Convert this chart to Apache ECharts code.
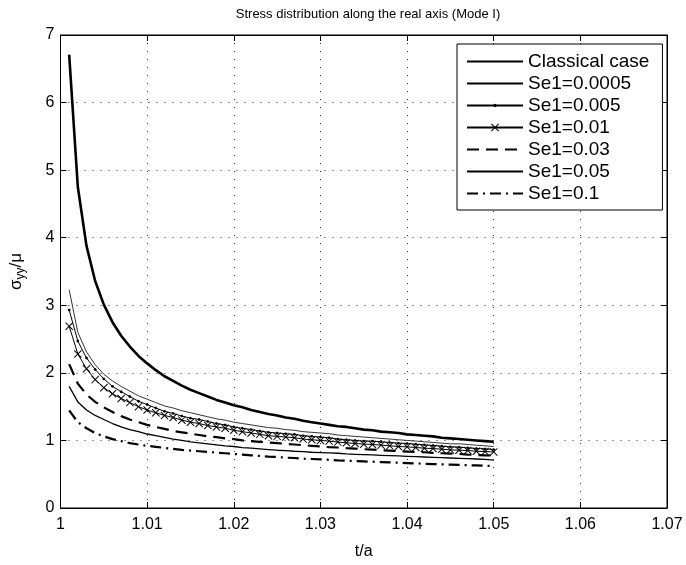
<!DOCTYPE html>
<html>
<head>
<meta charset="utf-8">
<script src="https://cdn.jsdelivr.net/npm/echarts@6/dist/echarts.min.js"></script>
<style>
html,body{margin:0;padding:0;background:#fff;}
#chart{width:686px;height:565px;}
</style>
</head>
<body>
<div id="chart"></div>
<script>
// t/a sample positions
const tValues = [1.001,1.002,1.003,1.004,1.005,1.006,1.007,1.008,1.009,1.010,
  1.011,1.012,1.013,1.014,1.015,1.016,1.017,1.018,1.019,1.020,
  1.021,1.022,1.023,1.024,1.025,1.026,1.027,1.028,1.029,1.030,
  1.031,1.032,1.033,1.034,1.035,1.036,1.037,1.038,1.039,1.040,
  1.041,1.042,1.043,1.044,1.045,1.046,1.047,1.048,1.049,1.050];

const classical = [6.71,4.75,3.88,3.36,3.01,2.75,2.55,2.39,2.25,2.14,
  2.04,1.95,1.88,1.81,1.75,1.70,1.65,1.60,1.56,1.52,
  1.49,1.45,1.42,1.39,1.37,1.34,1.32,1.29,1.27,1.25,
  1.23,1.21,1.20,1.18,1.16,1.15,1.13,1.12,1.11,1.09,
  1.08,1.07,1.06,1.04,1.03,1.02,1.01,1.00,0.99,0.98];

const se0005 = [3.23,2.60,2.31,2.12,1.98,1.88,1.80,1.73,1.66,1.61,
  1.56,1.51,1.48,1.44,1.41,1.38,1.35,1.32,1.30,1.27,
  1.25,1.23,1.21,1.19,1.18,1.16,1.15,1.13,1.12,1.11,
  1.10,1.08,1.07,1.06,1.05,1.04,1.03,1.02,1.01,1.00,
  0.99,0.98,0.97,0.96,0.95,0.95,0.94,0.93,0.92,0.91];

const se005 = [2.93,2.47,2.22,2.05,1.91,1.80,1.72,1.65,1.58,1.53,
  1.48,1.43,1.40,1.36,1.33,1.31,1.28,1.25,1.23,1.20,
  1.18,1.16,1.14,1.12,1.11,1.10,1.09,1.07,1.06,1.05,
  1.04,1.02,1.01,1.00,0.99,0.99,0.98,0.97,0.96,0.955,
  0.945,0.935,0.925,0.915,0.905,0.90,0.89,0.88,0.875,0.865];

const se01 = [2.69,2.28,2.06,1.90,1.78,1.69,1.62,1.56,1.50,1.45,
  1.41,1.37,1.34,1.30,1.27,1.25,1.22,1.20,1.18,1.15,
  1.13,1.11,1.09,1.07,1.06,1.05,1.04,1.02,1.01,1.00,
  0.99,0.975,0.965,0.955,0.945,0.94,0.93,0.92,0.91,0.905,
  0.895,0.885,0.88,0.87,0.86,0.855,0.85,0.84,0.835,0.83];

const se03 = [2.13,1.84,1.68,1.57,1.49,1.42,1.36,1.31,1.27,1.23,
  1.20,1.17,1.14,1.12,1.10,1.08,1.06,1.05,1.03,1.02,
  1.00,0.99,0.98,0.97,0.96,0.95,0.94,0.93,0.92,0.91,
  0.90,0.895,0.885,0.88,0.87,0.865,0.855,0.85,0.84,0.835,
  0.83,0.825,0.815,0.81,0.805,0.80,0.79,0.785,0.78,0.775];

const se05 = [1.80,1.57,1.45,1.37,1.31,1.25,1.20,1.16,1.13,1.095,
  1.07,1.045,1.02,1.00,0.98,0.965,0.95,0.935,0.92,0.91,
  0.895,0.885,0.875,0.865,0.855,0.85,0.84,0.835,0.825,0.82,
  0.815,0.81,0.80,0.795,0.79,0.785,0.78,0.775,0.77,0.765,
  0.76,0.755,0.75,0.745,0.74,0.735,0.73,0.725,0.72,0.71];

const se1 = [1.445,1.27,1.18,1.11,1.06,1.02,0.99,0.96,0.94,0.92,
  0.905,0.89,0.875,0.86,0.85,0.84,0.83,0.82,0.81,0.80,
  0.79,0.78,0.77,0.76,0.755,0.745,0.74,0.73,0.725,0.72,
  0.713,0.706,0.70,0.695,0.69,0.685,0.68,0.675,0.67,0.665,
  0.66,0.655,0.65,0.646,0.642,0.638,0.634,0.63,0.625,0.62];

const seriesNames = ['Classical case','Se1=0.0005','Se1=0.005','Se1=0.01','Se1=0.03','Se1=0.05','Se1=0.1'];
const xTicks = [1,1.01,1.02,1.03,1.04,1.05,1.06,1.07];
const yTicks = [0,1,2,3,4,5,6,7];

const pair = arr => tValues.map((t,i) => [t, arr[i]]);
const FONT = 'Liberation Sans, Arial, sans-serif';
// marker shapes drawn inside a 12x12 box (corner moveTo points fix the box)
const dotPath = 'path://M0,0M12,12M6,4.3L7.2,4.8L7.7,6L7.2,7.2L6,7.7L4.8,7.2L4.3,6L4.8,4.8Z';
const crossPath = 'path://M0,0M12,12M2,2.7L2.7,2L10,9.3L9.3,10ZM9.3,2L10,2.7L2.7,10L2,9.3Z';

const chart = echarts.init(document.getElementById('chart'), null, {renderer:'canvas'});

const baseLine = (name, data, ls, extra) => Object.assign({
  name, type:'line', data: pair(data), symbol:'none', animation:false,
  lineStyle: Object.assign({color:'#000'}, ls),
  itemStyle: {color:'#000'},
  emphasis:{disabled:true}, z: 3
}, extra || {});

const gridLine = {show:true, lineStyle:{color:'#222', width:1, type:[1,7]}};
const noSym = name => ({name, itemStyle:{opacity:0}});

chart.setOption({
  animation:false,
  backgroundColor:'#fff',
  title:{
    text:'Stress distribution along the real axis (Mode I)',
    left: 363, top: 3, textAlign:'center',
    textStyle:{fontFamily:FONT, fontSize:13, fontWeight:'normal', color:'#000'}
  },
  grid:{left:60, right:19, top:35, bottom:53, show:true, borderColor:'#000', borderWidth:1},
  xAxis:[{
    type:'value', min:1, max:1.07, interval:0.01,
    name:'t/a', nameLocation:'middle', nameGap:36,
    nameTextStyle:{fontFamily:FONT, fontSize:16, color:'#000'},
    axisLine:{show:true, onZero:false, lineStyle:{color:'#000', width:1}},
    axisTick:{show:true, inside:true, length:6, lineStyle:{color:'#000'}},
    axisLabel:{fontFamily:FONT, fontSize:16, color:'#000', margin:9,
      formatter: v => String(+v.toFixed(2))},
    splitLine: gridLine
  },{
    type:'value', min:1, max:1.07, interval:0.01, position:'top',
    axisLine:{show:true, onZero:false, lineStyle:{color:'#000'}},
    axisTick:{show:true, inside:true, length:6, lineStyle:{color:'#000'}},
    axisLabel:{show:false}, splitLine:{show:false}
  }],
  yAxis:[{
    type:'value', min:0, max:7, interval:1,
    name:'{s|σ}{sub|yy}{s|/μ}', nameLocation:'middle', nameGap:34, nameRotate:90,
    nameTextStyle:{fontFamily:FONT, color:'#000',
      rich:{
        s:{fontFamily:FONT, fontSize:17, color:'#000'},
        sub:{fontFamily:FONT, fontSize:12, color:'#000', verticalAlign:'bottom', padding:[8,0,0,0]}
      }},
    axisLine:{show:true, onZero:false, lineStyle:{color:'#000', width:1}},
    axisTick:{show:true, inside:true, length:6, lineStyle:{color:'#000'}},
    axisLabel:{fontFamily:FONT, fontSize:16, color:'#000', margin:6},
    splitLine: gridLine
  },{
    type:'value', min:0, max:7, interval:1, position:'right',
    axisLine:{show:true, onZero:false, lineStyle:{color:'#000'}},
    axisTick:{show:true, inside:true, length:6, lineStyle:{color:'#000'}},
    axisLabel:{show:false}, splitLine:{show:false}
  }],
  legend:{
    orient:'vertical', left:457, top:44,
    backgroundColor:'#fff', borderColor:'#000', borderWidth:1,
    padding:[8,13,7,9], itemGap:3, itemWidth:56, itemHeight:15,
    textStyle:{fontFamily:FONT, fontSize:19, color:'#000'},
    data: [noSym(seriesNames[0]), noSym(seriesNames[1]), seriesNames[2], seriesNames[3],
           noSym(seriesNames[4]), noSym(seriesNames[5]), noSym(seriesNames[6])]
  },
  series:[
    baseLine(seriesNames[0], classical, {width:2.6}),
    baseLine(seriesNames[1], se0005, {width:0.8}),
    baseLine(seriesNames[2], se005, {width:1}, {symbol:dotPath, symbolSize:10, showSymbol:true}),
    baseLine(seriesNames[3], se01, {width:1}, {symbol:crossPath, symbolSize:12, showSymbol:true}),
    baseLine(seriesNames[4], se03, {width:2.2, type:[12,7]}),
    baseLine(seriesNames[5], se05, {width:1.3}),
    baseLine(seriesNames[6], se1, {width:2.2, type:[11,5,2,5]})
  ]
});
</script>
</body>
</html>
